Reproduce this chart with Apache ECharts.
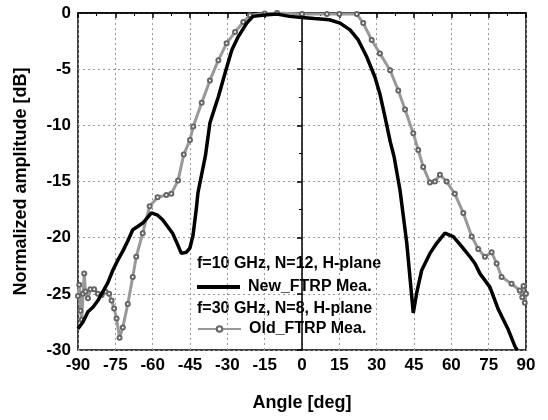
<!DOCTYPE html>
<html>
<head>
<meta charset="utf-8">
<script src="https://cdn.jsdelivr.net/npm/echarts@6/dist/echarts.min.js"></script>
<style>
  html,body{margin:0;padding:0;background:#fff}
  #main{width:548px;height:420px}
</style>
</head>
<body>
<div id="main"></div>
<script>
let newAngle = [-90,-88,-86,-84,-82,-80,-78,-76,-74,-72,-70,-68,-66,-64,-62,-60.5,-58,-56,-54,-52,-50,-48.5,-46.5,-45,-43.8,-42.5,-41.8,-38.8,-37,-35,-33.6,-30.9,-28.2,-25.6,-22.2,-19.7,-14,-10,-5,0,5,11,15.3,19.3,22.6,26,29.3,31.3,33.3,35.5,37,39.4,42.1,44.7,46.1,48.1,51.4,54.1,57.4,60.8,64.2,67.5,69.5,71.5,75.5,78.9,82.9,85.6,86.5]
let newAmp = [-28.1,-27.5,-26.6,-26.2,-25.6,-24.8,-24.0,-22.9,-22.0,-21.2,-20.3,-19.3,-19.0,-18.7,-18.2,-17.8,-18.0,-18.4,-19.0,-19.6,-20.6,-21.4,-21.3,-20.9,-19.8,-17.5,-16.0,-12.7,-9.8,-8.4,-7.45,-5.35,-3.3,-2.1,-0.9,-0.3,-0.15,-0.1,-0.3,-0.4,-0.5,-0.6,-0.9,-1.5,-2.4,-3.9,-5.7,-7.2,-9.2,-11.5,-12.8,-15.8,-20.5,-26.7,-24.9,-22.9,-21.4,-20.5,-19.6,-19.9,-20.8,-21.7,-22.3,-23.2,-24.4,-26.4,-28.2,-29.7,-30]

let oldAngle = [-90,-89.5,-89,-88.5,-88,-87.5,-87,-86,-85,-83.5,-82,-80.5,-79,-77.5,-76.5,-75.5,-74.5,-73.3,-72,-70,-68,-66.6,-64,-61.2,-58,-54.5,-52.5,-49.8,-47.5,-45,-43.7,-40.3,-37,-33.6,-30.3,-26.9,-23.6,-20.9,-15,-10,0,10,15,22,24.6,28,31.3,35.4,38.7,41.4,44.7,46.7,48.7,51.4,53.4,55.4,58.1,61.4,64.8,68.2,70.8,73.5,76.2,78.2,80.2,84.2,87.5,88.5,89,89.5,90]
let oldAmp = [-25.2,-24.2,-26.5,-27.3,-25.0,-23.2,-24.8,-25.4,-24.6,-24.6,-25.0,-25.1,-24.8,-25.0,-25.6,-26.3,-27.2,-28.9,-28.0,-25.9,-23.5,-21.7,-19.6,-17.2,-16.4,-16.2,-16.1,-14.9,-12.6,-11.3,-10.1,-8.0,-6.0,-4.2,-2.7,-1.7,-0.8,-0.2,-0.05,0,-0.1,-0.1,-0.1,-0.1,-0.9,-2.4,-3.6,-5.1,-6.9,-8.6,-10.7,-12.2,-13.7,-15.1,-15.0,-14.4,-15.0,-16.1,-17.8,-19.9,-21.0,-21.7,-21.3,-22.3,-23.5,-24.1,-24.7,-25.3,-24.3,-25.8,-25.0]

let xTicks = [-90,90,15]
let yTicks = [-30,0,5]

let font = 'Liberation Sans, Arial, sans-serif'
let myChart = echarts.init(document.getElementById('main'))
let axisText = {fontSize:17,fontWeight:'bold',color:'#000',fontFamily:font}
let legendText = {fontSize:16,fontWeight:'bold',color:'#000',fontFamily:font}

let option = {
  backgroundColor:'#fff',
  animation:false,
  grid:{
    left:78,right:22,top:13,bottom:70,
    show:true,
    borderColor:'#000',
    borderWidth:1.5
  },
  xAxis:{
    type:'value',
    min:xTicks[0],
    max:xTicks[1],
    interval:xTicks[2],
    name:'Angle [deg]',
    nameLocation:'middle',
    nameGap:44,
    nameTextStyle:{fontSize:18,fontWeight:'bold',color:'#000',fontFamily:font},
    axisLine:{lineStyle:{color:'#000',width:1.5}},
    axisTick:{length:5,lineStyle:{color:'#000',width:1.5}},
    minorTick:{show:true,splitNumber:2,length:3,lineStyle:{color:'#000'}},
    axisLabel:{...axisText,margin:7},
    splitLine:{show:true,lineStyle:{color:'#999',type:[2,3],width:1}}
  },
  yAxis:{
    type:'value',
    min:yTicks[0],
    max:yTicks[1],
    interval:yTicks[2],
    name:'Normalized amplitude [dB]',
    nameLocation:'middle',
    nameGap:48,
    nameTextStyle:{fontSize:18,fontWeight:'bold',color:'#000',fontFamily:font},
    axisLine:{lineStyle:{color:'#000',width:1.5}},
    axisTick:{length:5,lineStyle:{color:'#000',width:1.5}},
    minorTick:{show:true,splitNumber:2,length:3,lineStyle:{color:'#000'}},
    axisLabel:{...axisText,margin:7},
    splitLine:{show:true,lineStyle:{color:'#999',type:[2,3],width:1}}
  },
  legend:[{
    data:[{name:'New_FTRP Mea.',icon:'rect'}],
    left:197,top:279,padding:0,
    itemWidth:43,itemHeight:4,
    itemStyle:{color:'#000'},
    textStyle:{...legendText,padding:[0,0,0,3]}
  },{
    data:['Old_FTRP Mea.'],
    left:197,top:321,padding:0,
    itemWidth:43,itemHeight:7,
    textStyle:{...legendText,padding:[0,0,0,3]}
  }],
  graphic:[
    {type:'text',left:197,top:256,style:{text:'f=10 GHz, N=12, H-plane',font:'bold 16px '+font,fill:'#000'}},
    {type:'text',left:197,top:301,style:{text:'f=30 GHz, N=8, H-plane',font:'bold 16px '+font,fill:'#000'}}
  ],
  series:[{
    name:'New_FTRP Mea.',
    type:'line',
    data:newAngle.map((a,i)=>[a,newAmp[i]]),
    showSymbol:false,
    symbol:'none',
    color:'#000',
    lineStyle:{color:'#000',width:3.5},
    z:3
  },{
    name:'Old_FTRP Mea.',
    type:'line',
    data:oldAngle.map((a,i)=>[a,oldAmp[i]]),
    symbol:'emptyCircle',
    symbolSize:4,
    showAllSymbol:true,
    color:'#666',
    itemStyle:{color:'#666',borderWidth:1},
    lineStyle:{color:'#999',width:3},
    z:2
  }]
}
myChart.setOption(option)
</script>
</body>
</html>
